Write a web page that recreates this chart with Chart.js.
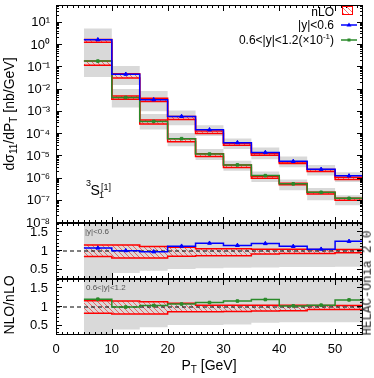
<!DOCTYPE html>
<html><head><meta charset="utf-8">
<script src="https://cdn.jsdelivr.net/npm/chart.js@4.4.1/dist/chart.umd.min.js"></script>
<style>
html,body{margin:0;padding:0;background:#fff;}
body{width:374px;height:378px;position:relative;overflow:hidden;font-family:"Liberation Sans",Arial,Helvetica,sans-serif;color:#000;}
canvas{position:absolute;left:0;}
.t{position:absolute;white-space:nowrap;line-height:1;}
.rot{transform:translate(-50%,-50%) rotate(-90deg);}
.sb{font-size:10px;position:relative;top:3px;}
.sp{font-size:8px;position:relative;top:-5px;}
</style></head><body>
<canvas id="cMain" width="374" height="235" style="top:0px;width:374px;height:235px"></canvas>
<canvas id="cR1" width="374" height="76" style="top:213px;width:374px;height:76px"></canvas>
<canvas id="cR2" width="374" height="109" style="top:269px;width:374px;height:109px"></canvas>

<div class="t rot" style="left:10px;top:114px;font-size:14px;line-height:16px">dσ<span class="sb">11</span>/dP<span class="sb">T</span> [nb/GeV]</div>
<div class="t rot" style="left:9px;top:305px;font-size:14px;line-height:16px">NLO/nLO</div>
<div class="t" style="left:209px;top:366px;font-size:14px;line-height:16px;transform:translate(-50%,-50%)">P<span class="sb">T</span> [GeV]</div>

<div class="t" style="left:86px;top:178.5px;font-size:9px">3</div>
<div class="t" style="left:90.5px;top:183px;font-size:14px">S</div>
<div class="t" style="left:99px;top:190.5px;font-size:9px">1</div>
<div class="t" style="left:101px;top:183px;font-size:9px">[1]</div>

<div class="t" style="left:85px;top:228px;font-size:8px;color:#555">|y|&lt;0.6</div>
<div class="t" style="left:86px;top:284px;font-size:8px;color:#555">0.6&lt;|y|&lt;1.2</div>

<div class="t rot" style="left:368px;top:283px;font-family:'Liberation Mono','DejaVu Sans Mono',monospace;font-size:12.5px;color:#222">HELAC-Onia 2.0</div>

<div class="t" style="right:40px;top:6px;font-size:12px">nLO</div>
<div class="t" style="right:40px;top:19px;font-size:12px">|y|&lt;0.6</div>
<div class="t" style="right:40px;top:34px;font-size:12px">0.6&lt;|y|&lt;1.2(×10<span class="sp">-1</span>)</div>

<script>
// ---------- data ----------
const binEdges = [5,10,15,20,25,30,35,40,45,50,55];
const xTickValues = [0,10,20,30,40,50];
const mainTickExponents = [-8,-7,-6,-5,-4,-3,-2,-1,0,1];
const ratioTickValues = [0.5,1,1.5];

// |y|<0.6 : NLO central, NLO uncertainty (gray), nLO band (red hatched)
const y06NLO      = [1.74,0.049,0.0035,6.2e-4,1.55e-4,4.1e-5,1.48e-5,5.9e-6,2.6e-6,1.32e-6];
const y06NLOErrLo = [0.35,0.0158,1.05e-3,2.5e-4,8.1e-5,2.1e-5,7.4e-6,3.2e-6,1.35e-6,6.9e-7];
const y06NLOErrHi = [5.5,0.115,8.5e-3,1.15e-3,2.5e-4,6.3e-5,2.45e-5,9.8e-6,4.1e-6,1.9e-6];
const y06nLOLo    = [1.32,0.033,2.88e-3,4.47e-4,1.05e-4,3.09e-5,1.12e-5,4.68e-6,2.09e-6,9.1e-7];
const y06nLOHi    = [1.76,0.051,4.07e-3,6.17e-4,1.35e-4,3.8e-5,1.32e-5,5.5e-6,2.51e-6,1.15e-6];

// 0.6<|y|<1.2 (x 1/10)
const y12NLO      = [0.19,0.0044,3.7e-4,6.2e-5,1.26e-5,4.1e-6,1.35e-6,5.75e-7,2.4e-7,1.29e-7];
const y12NLOErrLo = [0.037,1.55e-3,1.58e-4,2.8e-5,6.8e-6,2.24e-6,6.9e-7,2.95e-7,1.05e-7,6.3e-8];
const y12NLOErrHi = [0.45,0.0105,7.9e-4,1.12e-4,2.1e-5,6.3e-6,2.04e-6,9.1e-7,3.7e-7,1.78e-7];
const y12nLOLo    = [0.123,3.63e-3,2.82e-4,4.47e-5,9.8e-6,3.16e-6,1.02e-6,5.25e-7,2.0e-7,1.05e-7];
const y12nLOHi    = [0.19,5.13e-3,4.27e-4,6.17e-5,1.29e-5,4.07e-6,1.26e-6,6.17e-7,2.4e-7,1.29e-7];

// ratio panel |y|<0.6
const r06Ratio  = [1.08,1.01,0.98,1.13,1.21,1.15,1.20,1.125,1.05,1.26];
const r06GrayLo = [0.2,0.41,0.47,0.52,0.54,0.55,0.56,0.57,0.57,0.58];
const r06GrayHi = [2.2,2.2,2.2,2.2,2.2,2.2,2.2,2.2,2.2,2.2];
const r06RedLo  = [0.85,0.81,0.81,0.86,0.875,0.875,0.92,0.93,0.93,0.95];
const r06RedHi  = [1.16,1.16,1.12,1.10,1.06,1.06,1.05,1.05,1.04,1.04];

// ratio panel 0.6<|y|<1.2
const r12Ratio  = [1.21,1.00,1.04,1.08,1.12,1.16,1.20,1.03,1.05,1.19];
const r12GrayLo = [0.2,0.40,0.455,0.52,0.52,0.53,0.58,0.59,0.59,0.59];
const r12GrayHi = [2.2,2.2,2.2,2.2,2.2,2.2,2.2,2.2,2.2,2.2];
const r12RedLo  = [0.83,0.81,0.81,0.875,0.875,0.88,0.89,0.90,0.93,0.93];
const r12RedHi  = [1.17,1.16,1.14,1.10,1.05,1.05,1.05,1.05,1.04,1.04];

const refX = [0,55];
const refY = [1,1];

// ---------- styling ----------
const RED='#ff0000', BLUE='#0000ff', GREEN='#2a8a2a', GRAY='#d9d9d9', NONE='rgba(0,0,0,0)';
const FONT = "'Liberation Sans', Arial, sans-serif";

function hatchPattern(){
  const c=document.createElement('canvas'); c.width=5; c.height=5;
  const g=c.getContext('2d');
  g.strokeStyle='rgba(255,0,0,0.55)'; g.lineWidth=1;
  g.beginPath(); g.moveTo(0,0); g.lineTo(5,5); g.moveTo(-1,4); g.lineTo(1,6); g.moveTo(4,-1); g.lineTo(6,1); g.stroke();
  return g.createPattern(c,'repeat');
}
const HATCH = hatchPattern();

const steps = v => v.flatMap((y,i)=>[{x:binEdges[i],y},{x:binEdges[i+1],y}]);
const centers = v => v.map((y,i)=>({x:(binEdges[i]+binEdges[i+1])/2,y}));

function Builder(){ this.ds=[]; }
Builder.prototype.band=function(lo,hi,bg,border,order){
  const i=this.ds.length, bc=border||NONE, bw=border?1.5:1;
  this.ds.push({data:steps(hi),fill:i+1,backgroundColor:bg,borderColor:bc,borderWidth:bw,pointRadius:0,order});
  this.ds.push({data:steps(lo),fill:false,borderColor:bc,borderWidth:bw,pointRadius:0,order});
};
Builder.prototype.line=function(v,color,order){
  this.ds.push({data:steps(v),fill:false,borderColor:color,borderWidth:1.5,pointRadius:0,order});
};
Builder.prototype.points=function(v,color,style,r,order){
  this.ds.push({data:centers(v),showLine:false,fill:false,borderColor:color,backgroundColor:color,pointStyle:style,pointRadius:r,borderWidth:1,order});
};
Builder.prototype.ref=function(order){
  this.ds.push({data:refX.map((x,i)=>({x,y:refY[i]})),fill:false,borderColor:'#000',borderWidth:1,borderDash:[4,3],pointRadius:0,order});
};

function makeFrame(cfg){
  return {id:'frameTicks',afterDatasetsDraw(chart){
    const {ctx,chartArea:a}=chart, xs=chart.scales.x, ys=chart.scales.y;
    ctx.save(); ctx.strokeStyle='#000'; ctx.lineWidth=1; ctx.setLineDash([]); ctx.beginPath();
    const tx=(v,L)=>{const p=Math.round(xs.getPixelForValue(v))+0.5; if(p<a.left||p>a.right) return;
      ctx.moveTo(p,a.top); ctx.lineTo(p,a.top+L); ctx.moveTo(p,a.bottom); ctx.lineTo(p,a.bottom-L);};
    const ty=(v,L)=>{const p=Math.round(ys.getPixelForValue(v))-0.5; if(p<a.top||p>a.bottom) return;
      ctx.moveTo(a.left,p); ctx.lineTo(a.left+L,p); ctx.moveTo(a.right,p); ctx.lineTo(a.right-L,p);};
    cfg.xMajor.forEach(v=>tx(v,6)); cfg.xMinor.forEach(v=>tx(v,3));
    cfg.yMajor.forEach(v=>ty(v,6)); cfg.yMinor.forEach(v=>ty(v,3));
    ctx.stroke();
    ctx.strokeRect(Math.round(a.left)+0.5,Math.round(a.top)+0.5,Math.round(a.right-a.left)-1,Math.round(a.bottom-a.top)-1);
    ctx.restore();
  }};
}

const legendMarks={id:'legendMarks',afterDraw(chart){
  const ctx=chart.ctx; ctx.save();
  ctx.fillStyle=HATCH; ctx.fillRect(342,6,11,9);
  ctx.strokeStyle=RED; ctx.lineWidth=1; ctx.strokeRect(342.5,6.5,10,8);
  ctx.lineWidth=1.5;
  ctx.strokeStyle=BLUE; ctx.beginPath(); ctx.moveTo(341,25); ctx.lineTo(357,25); ctx.stroke();
  ctx.fillStyle=BLUE; ctx.beginPath(); ctx.moveTo(349,22.5); ctx.lineTo(351.5,26.5); ctx.lineTo(346.5,26.5); ctx.closePath(); ctx.fill();
  ctx.strokeStyle=GREEN; ctx.beginPath(); ctx.moveTo(341,40); ctx.lineTo(357,40); ctx.stroke();
  ctx.fillStyle=GREEN; ctx.fillRect(347.5,38.5,3,3);
  ctx.restore();
}};

const supMap={'-':'⁻','0':'⁰','1':'¹','2':'²','3':'³','4':'⁴','5':'⁵','6':'⁶','7':'⁷','8':'⁸','9':'⁹'};
const fmtPow = v => '10'+String(Math.round(Math.log10(v))).split('').map(c=>supMap[c]).join('');

const xMinorAll=[]; for(let i=0;i<=55;i++) if(i%10) xMinorAll.push(i);
const mainMinor=[]; mainTickExponents.forEach(e=>{for(let k=2;k<=9;k++) mainMinor.push(k*Math.pow(10,e));});
const ratioMinor=[]; for(let i=3;i<=17;i++) if(i%5) ratioMinor.push(i/10);

function baseOptions(pad, yScale, xScale){
  return {responsive:false,animation:false,devicePixelRatio:1,
    layout:{padding:pad},
    plugins:{legend:{display:false},tooltip:{enabled:false}},
    elements:{line:{tension:0}},
    scales:{x:xScale,y:yScale}};
}
const xHidden={type:'linear',min:0,max:55,display:false};
function yCommon(extra){
  return Object.assign({grid:{display:false,drawTicks:false},border:{display:false},
    afterFit:s=>{s.width=56; s.paddingTop=0; s.paddingBottom=0; s.paddingLeft=0; s.paddingRight=0;}},extra);
}

// ---------- main chart ----------
const bm=new Builder();
bm.band(y06NLOErrLo,y06NLOErrHi,GRAY,null,20);
bm.band(y12NLOErrLo,y12NLOErrHi,GRAY,null,20);
bm.band(y06nLOLo,y06nLOHi,HATCH,RED,10);
bm.band(y12nLOLo,y12nLOHi,HATCH,RED,10);
bm.line(y06NLO,BLUE,5);
bm.line(y12NLO,GREEN,5);
bm.points(y06NLO,BLUE,'triangle',2.2,1);
bm.points(y12NLO,GREEN,'rect',1.8,1);

new Chart(document.getElementById('cMain'),{type:'line',data:{datasets:bm.ds},
  options:baseOptions({left:0,right:11,top:2,bottom:12},
    yCommon({type:'logarithmic',min:1e-8,max:Math.pow(10,1.8),
      afterBuildTicks:s=>{s.ticks=mainTickExponents.map(e=>({value:Math.pow(10,e)}));},
      ticks:{autoSkip:false,padding:6,color:'#000',font:{family:FONT,size:13},callback:v=>fmtPow(v)}}),
    xHidden),
  plugins:[makeFrame({xMajor:xTickValues,xMinor:xMinorAll,yMajor:mainTickExponents.map(e=>Math.pow(10,e)),yMinor:mainMinor}),legendMarks]});

// ---------- ratio charts ----------
function ratioChart(id,grayLo,grayHi,redLo,redHi,ratio,color,style,r,pad,xScale){
  const b=new Builder();
  b.band(grayLo,grayHi,GRAY,null,20);
  b.band(redLo,redHi,HATCH,RED,10);
  b.ref(6);
  b.line(ratio,color,5);
  b.points(ratio,color,style,r,1);
  return new Chart(document.getElementById(id),{type:'line',data:{datasets:b.ds},
    options:baseOptions(pad,
      yCommon({type:'linear',min:0.25,max:1.75,
        afterBuildTicks:s=>{s.ticks=ratioTickValues.map(v=>({value:v}));},
        ticks:{autoSkip:false,padding:8,color:'#000',font:{family:FONT,size:13},callback:v=>String(v)}}),
      xScale),
    plugins:[makeFrame({xMajor:xTickValues,xMinor:xMinorAll,yMajor:ratioTickValues,yMinor:ratioMinor})]});
}
ratioChart('cR1',r06GrayLo,r06GrayHi,r06RedLo,r06RedHi,r06Ratio,BLUE,'triangle',2.2,{left:0,right:11,top:10,bottom:10},xHidden);
ratioChart('cR2',r12GrayLo,r12GrayHi,r12RedLo,r12RedHi,r12Ratio,GREEN,'rect',1.8,{left:0,right:11,top:10,bottom:0},
  {type:'linear',min:0,max:55,grid:{display:false,drawTicks:false},border:{display:false},
   afterBuildTicks:s=>{s.ticks=xTickValues.map(v=>({value:v}));},
   afterFit:s=>{s.height=43; s.paddingLeft=0; s.paddingRight=0; s.paddingTop=0; s.paddingBottom=0;},
   ticks:{autoSkip:false,maxRotation:0,padding:7,color:'#000',font:{family:FONT,size:13}}});
</script>
</body></html>
